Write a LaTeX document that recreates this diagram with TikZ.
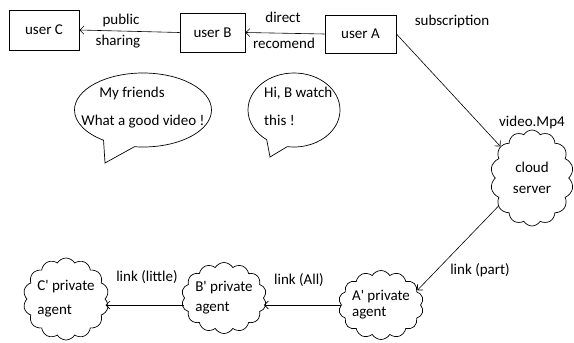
\documentclass[tikz,border=0pt]{standalone}
\usepackage{fontspec}
\setmainfont{Carlito}
\usetikzlibrary{shapes.symbols,shapes.callouts,arrows.meta}
\begin{document}
\begin{tikzpicture}[x=1pt,y=-1pt,
  every node/.style={font=\fontsize{15}{18}\selectfont},
  userbox/.style={draw, line width=0.9pt, inner sep=0pt},
  cloudnode/.style={cloud, draw, line width=0.7pt, cloud puffs=14, cloud puff arc=120, cloud ignores aspect, inner sep=0pt, align=left},
  bubble/.style={ellipse callout, draw, line width=0.7pt, callout pointer arc=28},
  conn/.style={line width=0.6pt, -{Straight Barb[length=4pt,width=8pt]}},
  lbl/.style={inner sep=0pt}
]
\useasboundingbox (0,0) rectangle (574,343);

% user boxes
\node[userbox, minimum width=70pt, minimum height=40pt] (C) at (44,30) {user C};
\node[userbox, minimum width=65pt, minimum height=39pt] (B) at (212.5,32.5) {user B};
\node[userbox, minimum width=71pt, minimum height=38pt] (A) at (360.5,34) {user A};

% clouds
\node[cloudnode, minimum width=83pt, minimum height=96pt, align=center] (srv) at (532,178) {cloud\\[3pt]server};
\node[cloudnode, minimum width=82pt, minimum height=69pt] (Ap) at (381,305) {A\textquotesingle{} private\\[-2pt]agent};
\node[cloudnode, minimum width=75pt, minimum height=71pt] (Bp) at (224,298) {B\textquotesingle{} private\\[2pt]agent};
\node[cloudnode, minimum width=73pt, minimum height=82pt] (Cp) at (66,299) {C\textquotesingle{} private\\[6pt]agent};

% speech bubbles
\node[bubble, minimum width=137pt, minimum height=74pt, callout absolute pointer={(105,163)}] (b1) at (143,110) {};
\node[bubble, minimum width=92pt, minimum height=74pt, callout absolute pointer={(270,157)}] (b2) at (294,110) {};
\node[lbl] (b1a) at (132,93) {My friends};
\node[lbl] (b1b) at (143,122) {What a good video !};
\node[lbl, anchor=west] (b2a) at (264,93) {Hi, B watch};
\node[lbl, anchor=west] (b2b) at (264,120) {this !};

% connectors
\draw[conn] (A.west) -- (B.east);
\draw[conn] (B.west) -- (C.east);
\draw[conn] (A.east) -- (srv.135);
\draw[conn] (srv.220) -- (Ap.22);
\draw[conn] (Ap.west) -- (Bp.east |- Ap.west);
\draw[conn] (Bp.west |- Ap.west) -- (Cp.east |- Ap.west);

% labels
\node[lbl] (l1) at (121,20) {public};
\node[lbl] (l2) at (118,42) {sharing};
\node[lbl] (l3) at (283,17) {direct};
\node[lbl] (l4) at (284,43) {recomend};
\node[lbl] (l5) at (452,22) {subscription};
\node[lbl] (l6) at (532,122) {video.Mp4};
\node[lbl] (l7) at (480,270) {link (part)};
\node[lbl] (l8) at (299,280) {link (All)};
\node[lbl] (l9) at (147,277) {link (little)};
\end{tikzpicture}
\end{document}
